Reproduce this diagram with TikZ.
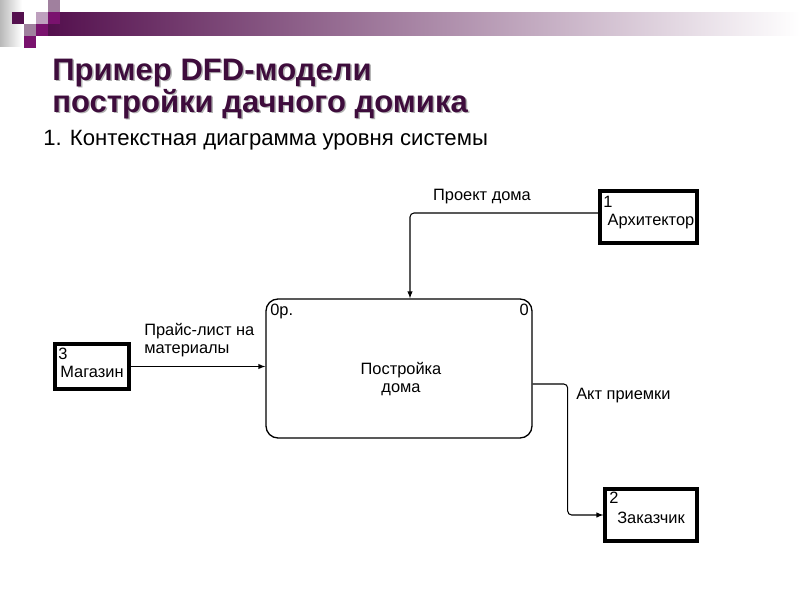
\documentclass[tikz,border=0pt]{standalone}
\usepackage{fontspec}
\setmainfont{Liberation Sans}
\usetikzlibrary{arrows,positioning}
\definecolor{dpurple}{RGB}{84,16,78}
\definecolor{mpurple}{RGB}{122,18,110}
\definecolor{mauve}{RGB}{160,128,158}
\definecolor{lmauve}{RGB}{190,160,190}
\definecolor{titlecol}{RGB}{62,12,60}
\tikzset{
  entity/.style={draw, line width=2.4pt, inner sep=0pt},
  process/.style={draw, line width=1pt, rounded corners=9pt, inner sep=0pt},
  flow/.style={-latex, line width=0.8pt, rounded corners=3pt},
  txt/.style={font=\fontsize{12.3}{14}\selectfont, inner sep=0pt},
  ttl/.style={anchor=base west, inner sep=0pt, font=\bfseries\fontsize{23.3}{26}\selectfont},
}
\begin{document}
\begin{tikzpicture}[x=0.75pt, y=-0.75pt]
\useasboundingbox (0,0) rectangle (800,600);
\fill[white] (0,0) rectangle (800,600);
% slide header
\shade[left color=gray!55, right color=white] (0,0) rectangle (22,46);
\shade[left color=dpurple, right color=white] (48,12) rectangle (800,35);
\fill[dpurple] (12,12) rectangle (24,24);
\fill[mauve] (48,0) rectangle (60,12);
\fill[lmauve] (36,12) rectangle (48,24);
\fill[mpurple] (48,12) rectangle (60,24);
\fill[mauve] (24,24) rectangle (36,36);
\fill[mpurple] (36,24) rectangle (48,36);
\fill[mpurple] (24,36) rectangle (36,48);
\node[ttl, text=black!30] (title1s) at (53.5,81.5) {Пример DFD-модели};
\node[ttl, text=black!30] (title2s) at (53.5,113.5) {постройки дачного домика};
\node[ttl, text=titlecol] (title1) at (52,80) {Пример DFD-модели};
\node[ttl, text=titlecol] (title2) at (52,112) {постройки дачного домика};
\node[anchor=base west, inner sep=0pt, font=\fontsize{16.6}{18}\selectfont] (subtitle) at (43,145) {1. Контекстная диаграмма уровня системы};

% diagram
\node[process, minimum width=199.5pt, minimum height=104.25pt] (proc) at (399,368.5) {};
\node[entity, minimum width=72.75pt, minimum height=39pt] (arch) at (648.5,217) {};
\node[entity, minimum width=55.5pt, minimum height=33.75pt] (shop) at (92,366.5) {};
\node[entity, minimum width=69pt, minimum height=39pt] (cust) at (651,515) {};
% thin right edges of the external entities
\foreach \e in {arch,shop,cust}
  \draw[white, line width=1.2pt] ([xshift=0.6pt,yshift=-0.6pt]\e.north east) -- ([xshift=0.6pt,yshift=0.6pt]\e.south east);

\node[txt, anchor=north west] (procid) at (270,304) {0р.};
\node[txt, anchor=north east] (procno) at (529,304) {0};
\node[txt, align=center] (procname) at (401,379) {Постройка\\дома};
\node[txt, anchor=north west] (archid) at (603,196) {1};
\node[txt] (archname) at (651,222) {Архитектор};
\node[txt, anchor=north west] (shopid) at (58,348) {3};
\node[txt] (shopname) at (92,372) {Магазин};
\node[txt, anchor=north west] (custid) at (609,492) {2};
\node[txt] (custname) at (651,518) {Заказчик};

\draw[flow] ([yshift=3pt]arch.west) -| ([xshift=8.25pt]proc.north);
\draw[flow] (shop.east) -- (shop.east -| proc.west);
\draw[flow] ([yshift=-11.6pt]proc.east) -- ++(35,0) |- (cust.west);

\node[txt] (plan) at (482,197) {Проект дома};
\node[txt, anchor=west, align=left] (price) at (144,340) {Прайс-лист на\\материалы};
\node[txt, anchor=west] (act) at (576,396) {Акт приемки};
\end{tikzpicture}
\end{document}
